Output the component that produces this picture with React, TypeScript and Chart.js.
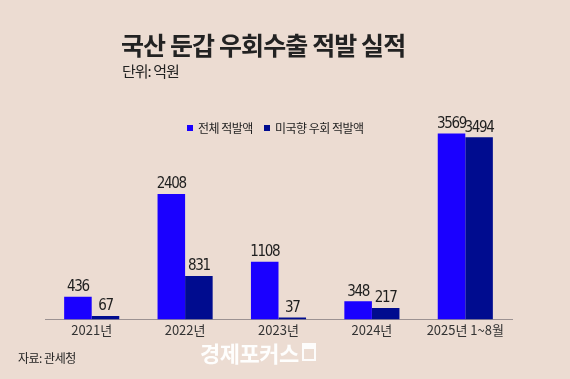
import React, { useEffect, useRef } from "react";
import { Chart, registerables } from "chart.js";

Chart.register(...registerables);

const categories = ["2021년", "2022년", "2023년", "2024년", "2025년 1~8월"];
const totalSeries = [436, 2408, 1108, 348, 3569];
const usSeries = [67, 831, 37, 217, 3494];
const seriesNames = ["전체 적발액", "미국향 우회 적발액"];

const BG = "#ecdcd2";
const BLUE = "#1a00ff";
const NAVY = "#000c8f";

const valueLabels = {
  id: "valueLabels",
  afterDatasetsDraw(chart: any) {
    const ctx = chart.ctx;
    ctx.save();
    ctx.font = "15px 'DejaVu Sans Condensed', 'Noto Sans', sans-serif";
    (ctx as any).letterSpacing = "-1.3px";
    ctx.fillStyle = "#1e1e1e";
    ctx.textAlign = "center";
    ctx.textBaseline = "bottom";
    chart.data.datasets.forEach((ds: any, di: number) => {
      const meta = chart.getDatasetMeta(di);
      meta.data.forEach((el: any, i: number) => {
        ctx.fillText(String(ds.data[i]), el.x, el.y - 2);
      });
    });
    ctx.restore();
  },
};

export default function App() {
  const ref = useRef<HTMLCanvasElement>(null);
  useEffect(() => {
    if (!ref.current) return;
    const chart = new Chart(ref.current, {
      type: "bar",
      data: {
        labels: categories,
        datasets: [
          { label: seriesNames[0], data: totalSeries, backgroundColor: BLUE, borderWidth: 0 },
          { label: seriesNames[1], data: usSeries, backgroundColor: NAVY, borderWidth: 0 },
        ],
      },
      options: {
        responsive: false,
        animation: false,
        layout: { padding: { left: 45, right: 58, top: 111, bottom: 38 } },
        plugins: { legend: { display: false }, tooltip: { enabled: false } },
        datasets: { bar: { categoryPercentage: 0.59, barPercentage: 1 } },
        scales: {
          x: {
            grid: { display: false, drawTicks: false },
            border: { display: true, color: "#9c9292", width: 1 },
            ticks: {
              color: "#333",
              padding: 3,
              font: { family: "'Noto Sans CJK KR', sans-serif", size: 13 },
              maxRotation: 0,
              autoSkip: false,
            },
          },
          y: { display: false, min: 0, max: 4000 },
        },
      },
      plugins: [valueLabels],
    });
    return () => chart.destroy();
  }, []);

  const font = "'Noto Sans CJK KR', 'Noto Sans', sans-serif";
  return (
    <div style={{ position: "fixed", left: 0, top: 0, width: 570, height: 379, background: BG, overflow: "hidden", fontFamily: font }}>
      <canvas ref={ref} width={570} height={379} style={{ position: "absolute", left: 0, top: 0 }} />
      <div style={{ position: "absolute", left: 121, top: 27, fontSize: 25, fontWeight: 700, letterSpacing: -0.9, color: "#222", lineHeight: "34px", whiteSpace: "nowrap" }}>
        국산 둔갑 우회수출 적발 실적
      </div>
      <div style={{ position: "absolute", left: 122, top: 61, fontSize: 15, letterSpacing: -1, color: "#222", lineHeight: "20px", whiteSpace: "nowrap" }}>
        단위: 억원
      </div>
      <div style={{ position: "absolute", left: 187, top: 119, display: "flex", alignItems: "center", fontSize: 12, letterSpacing: -0.5, color: "#222", lineHeight: "18px", whiteSpace: "nowrap" }}>
        <span style={{ display: "inline-block", width: 6, height: 6, background: BLUE, marginRight: 5 }} />
        <span>{seriesNames[0]}</span>
        <span style={{ display: "inline-block", width: 6, height: 6, background: NAVY, marginLeft: 11, marginRight: 5 }} />
        <span>{seriesNames[1]}</span>
      </div>
      <div style={{ position: "absolute", left: 18, top: 349, fontSize: 12, letterSpacing: -0.5, color: "#222", lineHeight: "18px", whiteSpace: "nowrap" }}>
        자료: 관세청
      </div>
      <div style={{ position: "absolute", left: 200, top: 337, display: "flex", alignItems: "center", fontSize: 22, fontWeight: 700, letterSpacing: -0.5, color: "rgba(255,255,255,0.95)", lineHeight: "30px", whiteSpace: "nowrap" }}>
        <span>경제포커스</span>
        <span style={{ display: "inline-block", width: 14, height: 18, marginLeft: 3, border: "2px solid rgba(255,255,255,0.9)", borderTopWidth: 6, boxSizing: "border-box" }} />
      </div>
    </div>
  );
}
